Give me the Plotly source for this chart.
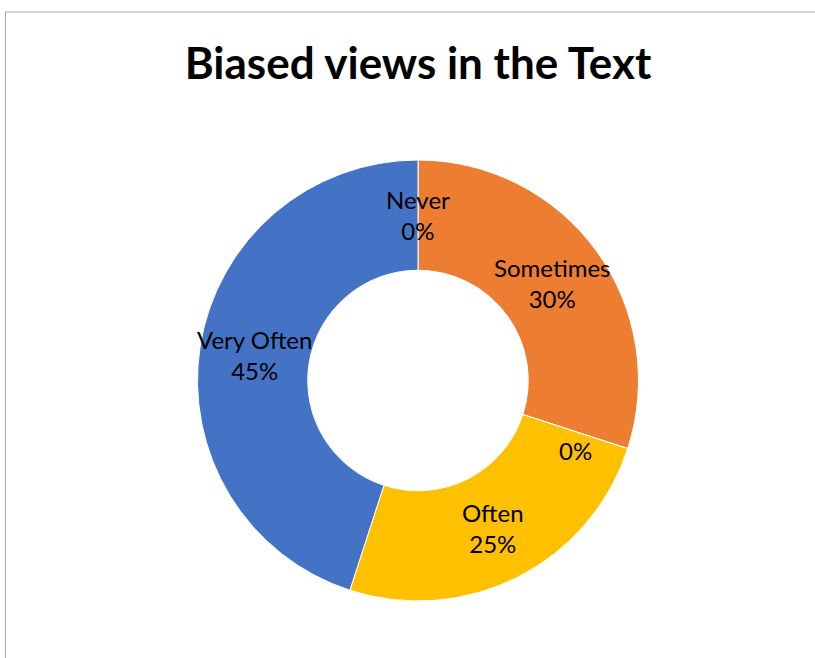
import math
import plotly.graph_objects as go

# Data
categories = ["Never", "Sometimes", "", "Often", "Very Often"]
values = [0, 30, 0, 25, 45]
colors = ["#5B9BD5", "#ED7D31", "#A5A5A5", "#FFC000", "#4472C4"]
title_text = "Biased views in the Text"

W, H = 815, 658
cx, cy, r_out = 418, 380.5, 220.5
hole = 0.5

fig = go.Figure()
fig.add_trace(go.Pie(
    labels=[c if c else " " for c in categories],
    values=values,
    hole=hole,
    sort=False,
    direction="clockwise",
    rotation=0,
    marker=dict(colors=colors, line=dict(color="white", width=1)),
    textinfo="none",
    hoverinfo="label+percent",
    showlegend=False,
    domain=dict(x=[(cx - r_out) / W, (cx + r_out) / W],
                y=[(H - cy - r_out) / H, (H - cy + r_out) / H]),
))

# data labels at the middle of the ring
total = sum(values)
r_mid = r_out * (1 + hole) / 2
nudges = {2: 19}  # small downward nudge for the zero label
cum = 0
annotations = []
for i, (c, v) in enumerate(zip(categories, values)):
    mid = (cum + v / 2) / total * 2 * math.pi
    cum += v
    x = cx + r_mid * math.sin(mid)
    y = cy - r_mid * math.cos(mid) + nudges.get(i, 0)
    pct = f"{round(v / total * 100)}%"
    txt = f"{c}<br>{pct}" if c else pct
    annotations.append(dict(
        x=x / W, y=1 - y / H, xref="paper", yref="paper",
        text=txt, showarrow=False, xanchor="center", yanchor="middle",
        font=dict(family="Lato", size=24, color="black"), align="center",
    ))

fig.update_layout(
    width=W, height=H,
    margin=dict(l=0, r=0, t=0, b=0),
    paper_bgcolor="white", plot_bgcolor="white",
    title=dict(text=f"<b>{title_text}</b>", x=418 / W, xanchor="center",
               y=1 - 64 / H, yanchor="middle",
               font=dict(family="Lato", size=44, color="black")),
    annotations=annotations,
    shapes=[
        dict(type="line", xref="paper", yref="paper", x0=5.5 / W, x1=5.5 / W,
             y0=0, y1=1 - 12 / H, line=dict(color="#A6A6A6", width=1)),
        dict(type="line", xref="paper", yref="paper", x0=5.5 / W, x1=1,
             y0=1 - 12 / H, y1=1 - 12 / H, line=dict(color="#A6A6A6", width=1)),
    ],
)

fig.write_html("out.html", config={"displayModeBar": False},
               post_script="document.body.style.margin='0';")
